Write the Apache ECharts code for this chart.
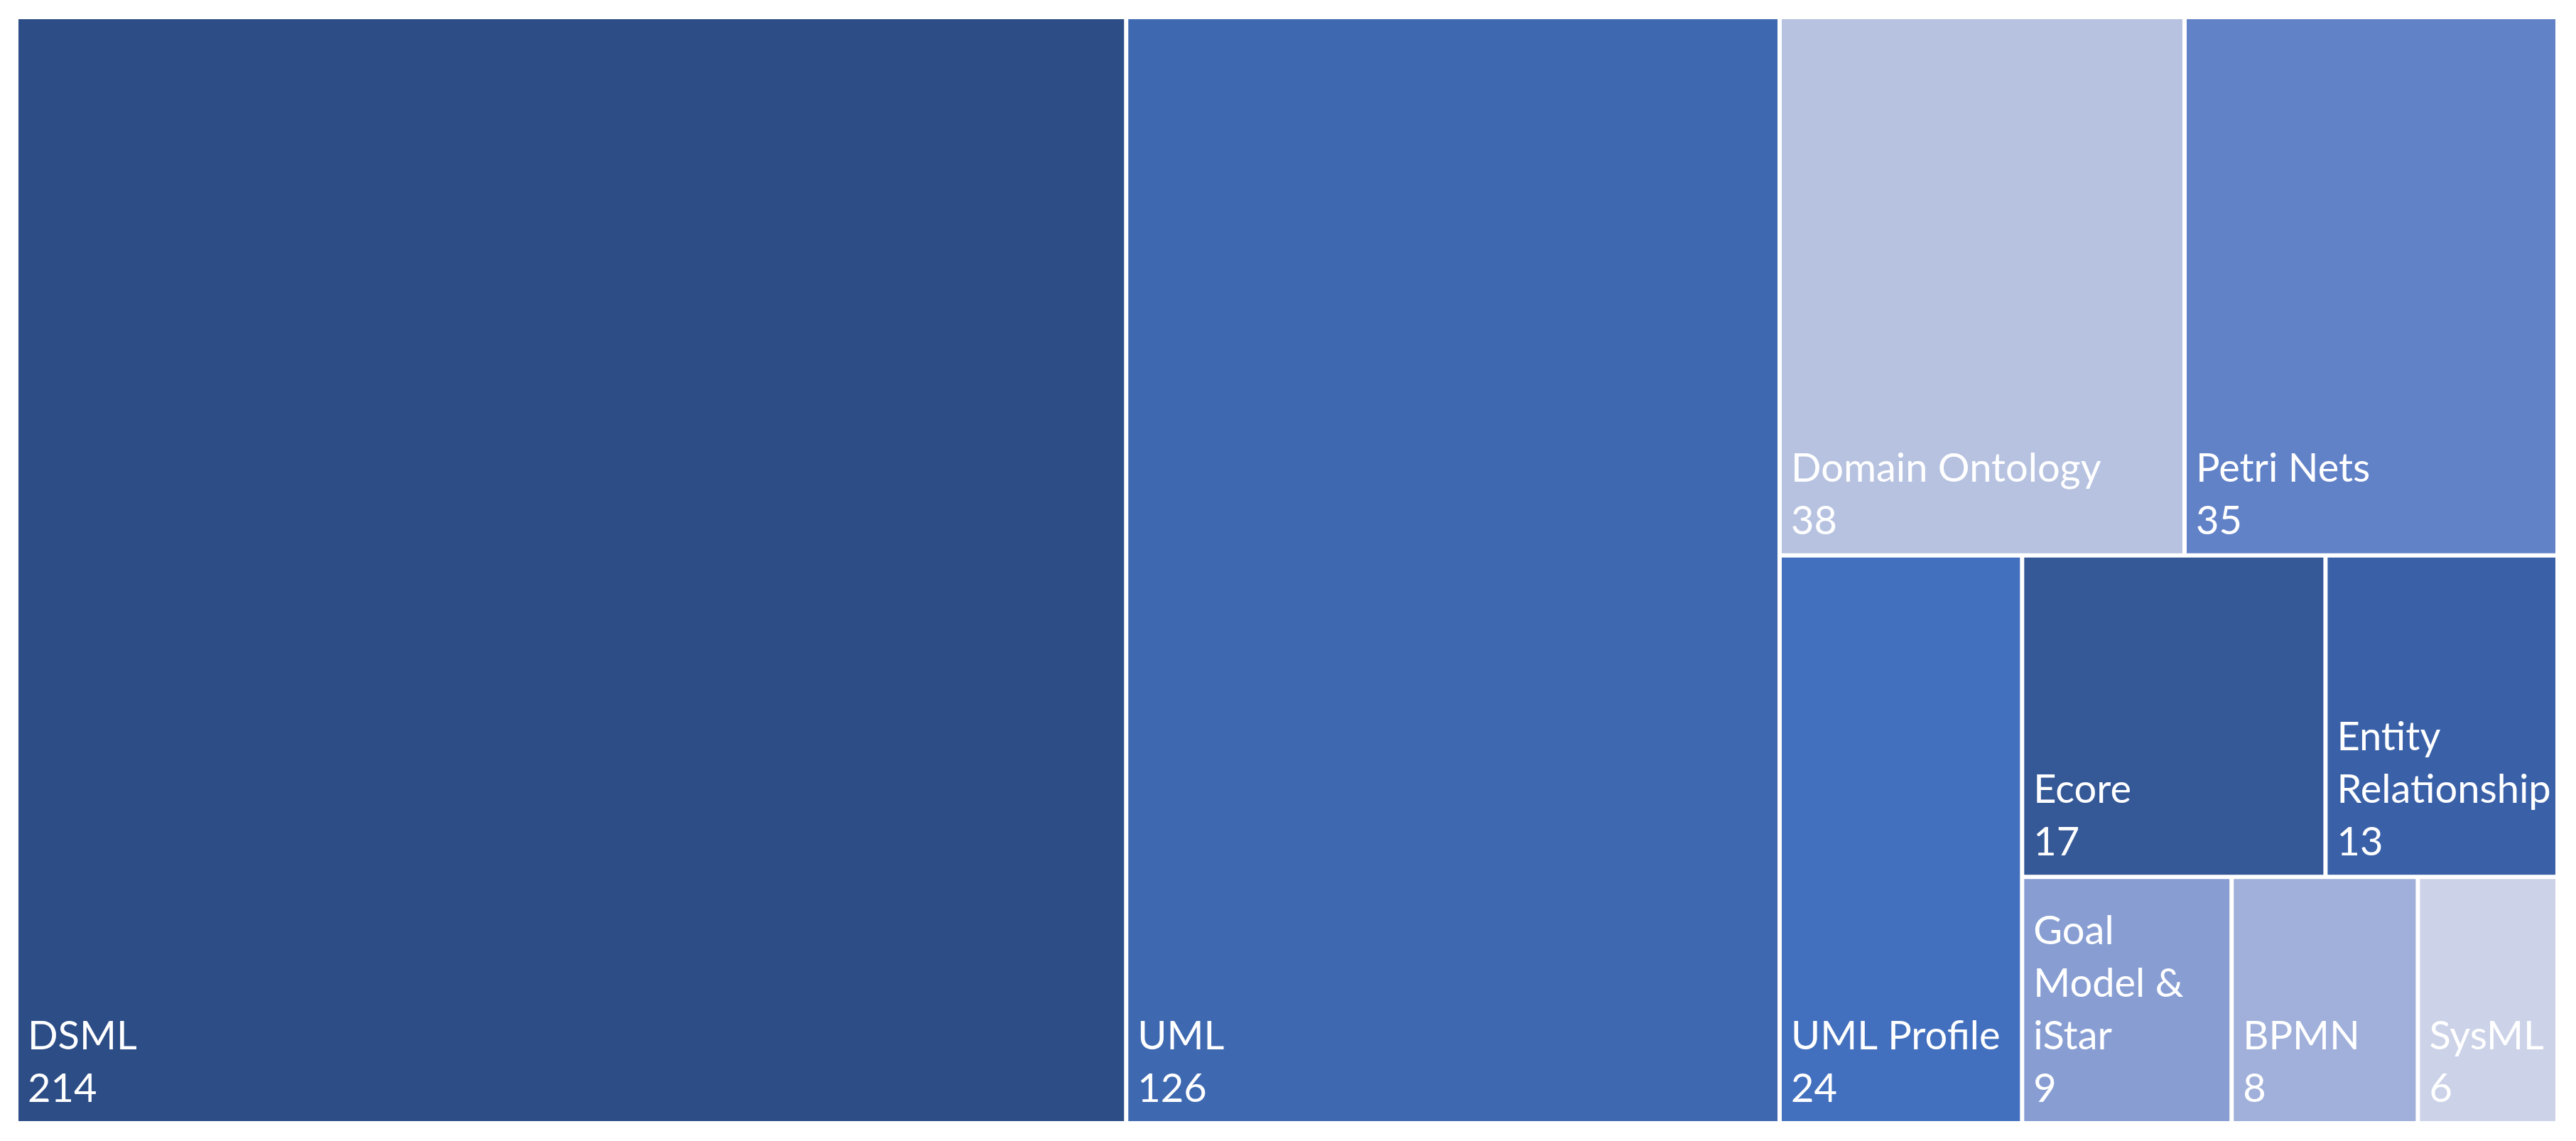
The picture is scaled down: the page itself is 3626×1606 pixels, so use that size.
<!DOCTYPE html>
<html>
<head>
<meta charset="utf-8">
<script src="https://cdn.jsdelivr.net/npm/echarts@6/dist/echarts.min.js"></script>
<style>
html,body{margin:0;padding:0;background:#fff;}
#chart{width:3626px;height:1606px;}
</style>
</head>
<body>
<div id="chart"></div>
<script>
const categories = ['DSML', 'UML', 'Domain Ontology', 'Petri Nets', 'UML Profile', 'Ecore', 'Entity Relationship', 'Goal Model & iStar', 'BPMN', 'SysML'];
const values = [214, 126, 38, 35, 24, 17, 13, 9, 8, 6];
const colors = ['#2C4D86', '#3E68B0', '#B6C2E0', '#6282C8', '#4370BE', '#355897', '#3A61A8', '#889ED3', '#A0B0DA', '#CCD3E8'];

const data = categories.map((name, i) => ({
  name: name,
  value: values[i],
  itemStyle: { color: colors[i] }
}));

const chart = echarts.init(document.getElementById('chart'), null, { renderer: 'canvas' });
chart.setOption({
  animation: false,
  series: [{
    type: 'treemap',
    left: 26,
    top: 27,
    width: 3571,
    height: 1551,
    roam: false,
    nodeClick: false,
    breadcrumb: { show: false },
    squareRatio: 0.8,
    sort: 'desc',
    levels: [
      { itemStyle: { borderWidth: 0, gapWidth: 6, borderColor: '#fff' } },
      { itemStyle: { borderWidth: 0, gapWidth: 0 } }
    ],
    label: {
      show: true,
      position: 'insideBottomLeft',
      distance: 0,
      padding: [0, 0, 8, 13],
      formatter: '{b}\n{c}',
      color: '#fff',
      fontFamily: 'Lato',
      fontSize: 56,
      lineHeight: 74,
      overflow: 'break'
    },
    data: data
  }]
});
</script>
</body>
</html>
